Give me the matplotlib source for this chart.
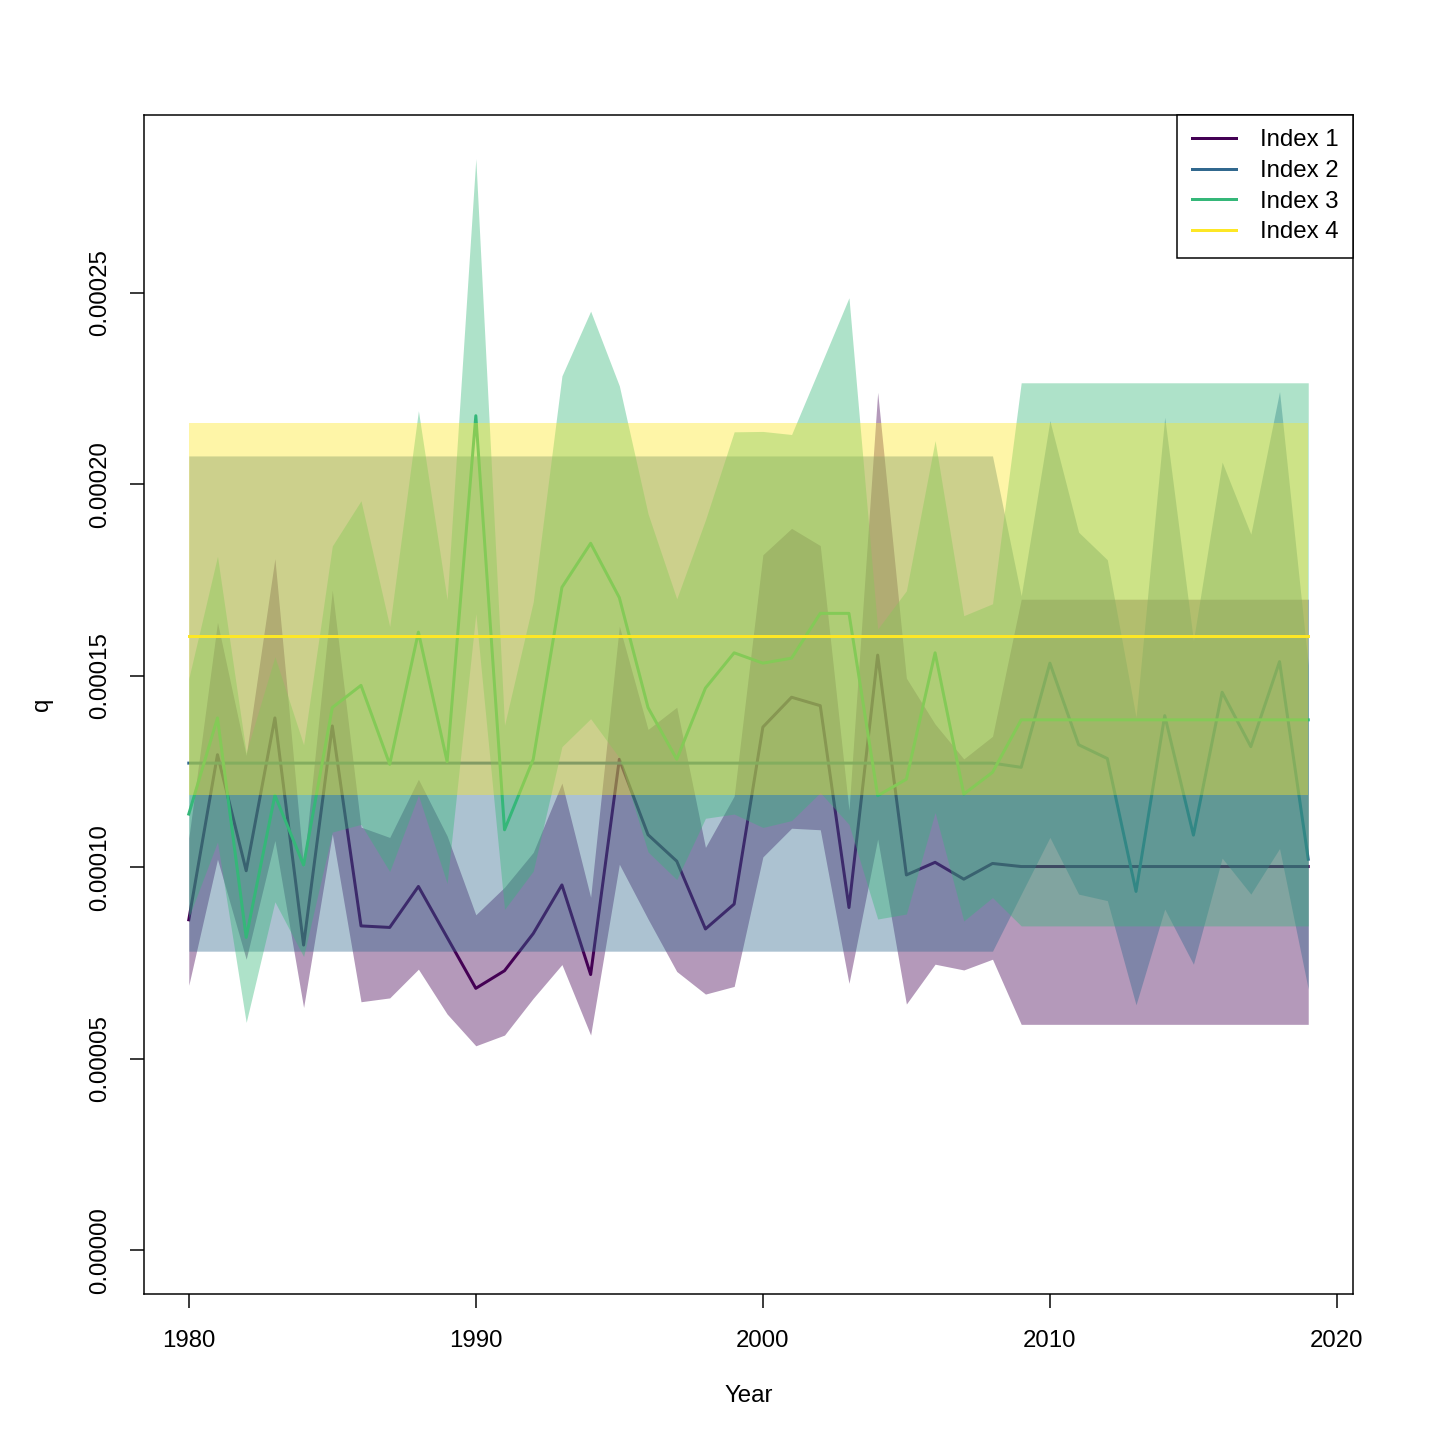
import numpy as np
import matplotlib.pyplot as plt

plt.rcParams['font.family'] = ['Liberation Sans', 'DejaVu Sans']

# values in units of 1e-5
years = np.arange(1980, 2020)

idx1_mid = [8.63, 12.94, 9.91, 13.90, 7.97, 13.69, 8.47, 8.43, 9.50, 8.17,
            6.84, 7.30, 8.27, 9.54, 7.20, 12.82, 10.85, 10.16, 8.39, 9.04,
            13.66, 14.44, 14.22, 8.95, 15.54, 9.80, 10.13, 9.69, 10.10, 10.02,
            10.02, 10.02, 10.02, 10.02, 10.02, 10.02, 10.02, 10.02, 10.02, 10.02]
idx1_lo = [6.92, 10.21, 7.60, 10.70, 6.34, 10.87, 6.49, 6.59, 7.34, 6.17,
           5.34, 5.62, 6.58, 7.46, 5.62, 10.08, 8.65, 7.28, 6.69, 6.89,
           10.27, 11.02, 10.98, 6.97, 10.74, 6.43, 7.47, 7.32, 7.60, 5.90,
           5.90, 5.90, 5.90, 5.90, 5.90, 5.90, 5.90, 5.90, 5.90, 5.90]
idx1_hi = [10.76, 16.40, 12.92, 18.06, 10.02, 17.24, 11.05, 10.78, 12.30, 10.82,
           8.76, 9.48, 10.39, 12.20, 9.22, 16.30, 13.60, 14.18, 10.52, 11.86,
           18.16, 18.85, 18.40, 11.49, 22.40, 14.94, 13.74, 12.83, 13.42, 17.00,
           17.00, 17.00, 17.00, 17.00, 17.00, 17.00, 17.00, 17.00, 17.00, 17.00]

idx2_mid = [12.72, 12.72, 12.72, 12.72, 12.72, 12.72, 12.72, 12.72, 12.72, 12.72,
            12.72, 12.72, 12.72, 12.72, 12.72, 12.72, 12.72, 12.72, 12.72, 12.72,
            12.72, 12.72, 12.72, 12.72, 12.72, 12.72, 12.72, 12.72, 12.72, 12.61,
            15.33, 13.20, 12.84, 9.37, 13.96, 10.84, 14.57, 13.15, 15.37, 10.21]
idx2_lo = [7.81, 7.81, 7.81, 7.81, 7.81, 7.81, 7.81, 7.81, 7.81, 7.81,
           7.81, 7.81, 7.81, 7.81, 7.81, 7.81, 7.81, 7.81, 7.81, 7.81,
           7.81, 7.81, 7.81, 7.81, 7.81, 7.81, 7.81, 7.81, 7.81, 9.30,
           10.78, 9.30, 9.13, 6.41, 8.91, 7.47, 10.24, 9.30, 10.49, 6.82]
idx2_hi = [20.74, 20.74, 20.74, 20.74, 20.74, 20.74, 20.74, 20.74, 20.74, 20.74,
           20.74, 20.74, 20.74, 20.74, 20.74, 20.74, 20.74, 20.74, 20.74, 20.74,
           20.74, 20.74, 20.74, 20.74, 20.74, 20.74, 20.74, 20.74, 20.74, 17.09,
           21.66, 18.75, 18.03, 13.92, 21.75, 15.92, 20.58, 18.70, 22.42, 15.28]

idx3_mid = [11.39, 13.90, 8.17, 11.88, 10.06, 14.17, 14.75, 12.69, 16.14, 12.76,
            21.79, 10.98, 12.82, 17.31, 18.46, 17.04, 14.17, 12.82, 14.68, 15.60,
            15.33, 15.46, 16.63, 16.63, 11.87, 12.30, 15.60, 11.91, 12.48, 13.85,
            13.85, 13.85, 13.85, 13.85, 13.85, 13.85, 13.85, 13.85, 13.85, 13.85]
idx3_lo = [8.69, 10.66, 5.95, 9.10, 7.67, 10.92, 11.12, 9.89, 11.88, 9.58,
           16.62, 8.90, 9.90, 13.15, 13.88, 12.86, 10.40, 9.68, 11.28, 11.39,
           11.04, 11.22, 11.95, 11.12, 8.65, 8.78, 11.43, 8.60, 9.21, 8.47,
           8.47, 8.47, 8.47, 8.47, 8.47, 8.47, 8.47, 8.47, 8.47, 8.47]
idx3_hi = [14.93, 18.12, 12.99, 15.50, 13.20, 18.39, 19.57, 16.29, 21.92, 16.99,
           28.50, 13.71, 16.93, 22.83, 24.52, 22.57, 19.23, 17.01, 19.07, 21.37,
           21.38, 21.30, 23.08, 24.87, 16.22, 17.22, 21.14, 16.57, 16.88, 22.65,
           22.65, 22.65, 22.65, 22.65, 22.65, 22.65, 22.65, 22.65, 22.65, 22.65]

idx4_mid = [16.05, 16.05, 16.05, 16.05, 16.05, 16.05, 16.05, 16.05, 16.05, 16.05,
            16.05, 16.05, 16.05, 16.05, 16.05, 16.05, 16.05, 16.05, 16.05, 16.05,
            16.05, 16.05, 16.05, 16.05, 16.05, 16.05, 16.05, 16.05, 16.05, 16.05,
            16.05, 16.05, 16.05, 16.05, 16.05, 16.05, 16.05, 16.05, 16.05, 16.05]
idx4_lo = [11.90, 11.90, 11.90, 11.90, 11.90, 11.90, 11.90, 11.90, 11.90, 11.90,
           11.90, 11.90, 11.90, 11.90, 11.90, 11.90, 11.90, 11.90, 11.90, 11.90,
           11.90, 11.90, 11.90, 11.90, 11.90, 11.90, 11.90, 11.90, 11.90, 11.90,
           11.90, 11.90, 11.90, 11.90, 11.90, 11.90, 11.90, 11.90, 11.90, 11.90]
idx4_hi = [21.60, 21.60, 21.60, 21.60, 21.60, 21.60, 21.60, 21.60, 21.60, 21.60,
           21.60, 21.60, 21.60, 21.60, 21.60, 21.60, 21.60, 21.60, 21.60, 21.60,
           21.60, 21.60, 21.60, 21.60, 21.60, 21.60, 21.60, 21.60, 21.60, 21.60,
           21.60, 21.60, 21.60, 21.60, 21.60, 21.60, 21.60, 21.60, 21.60, 21.60]

labels = ["Index 1", "Index 2", "Index 3", "Index 4"]
colors = ["#440154", "#31688E", "#35B779", "#FDE725"]
xticks = [1980, 1990, 2000, 2010, 2020]
yticks = [0.0, 5e-5, 10e-5, 15e-5, 20e-5, 25e-5]
ytick_labels = ["0.00000", "0.00005", "0.00010", "0.00015", "0.00020", "0.00025"]

series = [
    (idx1_mid, idx1_lo, idx1_hi),
    (idx2_mid, idx2_lo, idx2_hi),
    (idx3_mid, idx3_lo, idx3_hi),
    (idx4_mid, idx4_lo, idx4_hi),
]

scale = 1e-5

fig = plt.figure(figsize=(10, 10), dpi=144)
ax = fig.add_axes([0.1, 0.1014, 0.8396, 0.8187])

# band first, then its line, one index after the other
z = 1
for (mid, lo, hi), col, lab in zip(series, colors, labels):
    ax.fill_between(years, np.array(lo) * scale, np.array(hi) * scale,
                    color=col, alpha=0.4, linewidth=0, zorder=z)
    ax.plot(years, np.array(mid) * scale, color=col, lw=1.5, label=lab,
            zorder=z + 1, solid_joinstyle='round')
    z += 2

ax.set_xlim(1978.44, 2020.56)
ax.set_ylim(-0.0000114, 0.0002964)

ax.set_xticks(xticks)
ax.set_yticks(yticks)
ax.set_yticklabels(ytick_labels)
ax.tick_params(axis='both', direction='out', length=7.2, width=0.75,
               labelsize=12)
ax.tick_params(axis='x', pad=11)
ax.tick_params(axis='y', pad=9, labelrotation=90)
for t in ax.get_yticklabels():
    t.set_va('center')

for sp in ax.spines.values():
    sp.set_linewidth(0.75)

ax.set_xlabel("Year", fontsize=12)
ax.set_ylabel("q", fontsize=12)
ax.xaxis.set_label_coords(0.5, -0.077)
ax.yaxis.set_label_coords(-0.075, 0.5)

leg = ax.legend(loc='upper right', bbox_to_anchor=(1, 1), borderaxespad=0,
                fancybox=False, edgecolor='black', fontsize=12,
                handlelength=1.85, handletextpad=1.0, borderpad=0.6,
                labelspacing=0.36, framealpha=1)
leg.get_frame().set_linewidth(0.75)

fig.savefig("out.png", dpi=144)
